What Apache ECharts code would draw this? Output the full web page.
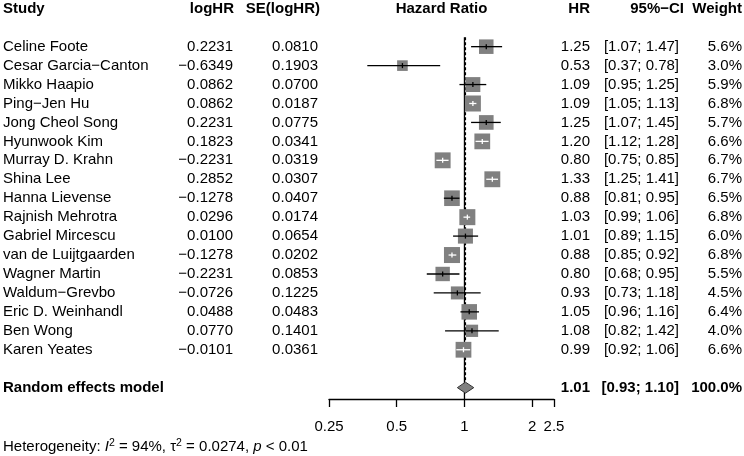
<!DOCTYPE html>
<html>
<head>
<meta charset="utf-8">
<script src="https://cdn.jsdelivr.net/npm/echarts@6/dist/echarts.min.js"></script>
<style>
  html, body { margin: 0; padding: 0; background: #fff; }
  #chart { width: 744px; height: 456px; }
</style>
</head>
<body>
<div id="chart"></div>
<script>
// study data
const studies = [
  'Celine Foote', 'Cesar Garcia\u2212Canton', 'Mikko Haapio', 'Ping\u2212Jen Hu',
  'Jong Cheol Song', 'Hyunwook Kim', 'Murray D. Krahn', 'Shina Lee',
  'Hanna Lievense', 'Rajnish Mehrotra', 'Gabriel Mircescu', 'van de Luijtgaarden',
  'Wagner Martin', 'Waldum\u2212Grevbo', 'Eric D. Weinhandl', 'Ben Wong', 'Karen Yeates'
];
const logHR = [0.2231, -0.6349, 0.0862, 0.0862, 0.2231, 0.1823, -0.2231, 0.2852,
  -0.1278, 0.0296, 0.0100, -0.1278, -0.2231, -0.0726, 0.0488, 0.0770, -0.0101];
const seLogHR = [0.0810, 0.1903, 0.0700, 0.0187, 0.0775, 0.0341, 0.0319, 0.0307,
  0.0407, 0.0174, 0.0654, 0.0202, 0.0853, 0.1225, 0.0483, 0.1401, 0.0361];
const hr = [1.25, 0.53, 1.09, 1.09, 1.25, 1.20, 0.80, 1.33, 0.88, 1.03, 1.01, 0.88, 0.80, 0.93, 1.05, 1.08, 0.99];
const ciLower = [1.07, 0.37, 0.95, 1.05, 1.07, 1.12, 0.75, 1.25, 0.81, 0.99, 0.89, 0.85, 0.68, 0.73, 0.96, 0.82, 0.92];
const ciUpper = [1.47, 0.78, 1.25, 1.13, 1.45, 1.28, 0.85, 1.41, 0.95, 1.06, 1.15, 0.92, 0.95, 1.18, 1.16, 1.42, 1.06];
const weights = [5.6, 3.0, 5.9, 6.8, 5.7, 6.6, 6.7, 6.7, 6.5, 6.8, 6.0, 6.8, 5.5, 4.5, 6.4, 4.0, 6.6];

// random effects model
const pooledHR = 1.01;
const pooledCI = [0.93, 1.10];
const pooledWeight = 100.0;

const xTicks = [0.25, 0.5, 1, 2, 2.5];
const headers = ['Study', 'logHR', 'SE(logHR)', 'Hazard Ratio', 'HR', '95%\u2212CI', 'Weight'];

const FONT = "'Liberation Sans', Arial, Helvetica, sans-serif";
const FS = 15;
const HEADER_ROW = -2;
const POOLED_ROW = 18;

const fmt = (v, d) => v.toFixed(d).replace('-', '\u2212');
const ciText = (lo, hi) => '[' + fmt(lo, 2) + '; ' + fmt(hi, 2) + ']';

// table cells (row index, text, x pixel, alignment, bold)
const cells = [];
const colX = [3, 234, 320, 441.5, 590, 684, 742];
const colAlign = ['left', 'right', 'right', 'center', 'right', 'right', 'right'];
headers.forEach((h, i) => cells.push({ row: HEADER_ROW, text: h, x: colX[i], align: colAlign[i], bold: true }));
studies.forEach((s, i) => {
  cells.push({ row: i, text: s, x: 3, align: 'left' });
  cells.push({ row: i, text: fmt(logHR[i], 4), x: 233, align: 'right' });
  cells.push({ row: i, text: fmt(seLogHR[i], 4), x: 318, align: 'right' });
  cells.push({ row: i, text: fmt(hr[i], 2), x: 590, align: 'right' });
  cells.push({ row: i, text: ciText(ciLower[i], ciUpper[i]), x: 679, align: 'right' });
  cells.push({ row: i, text: weights[i].toFixed(1) + '%', x: 742, align: 'right' });
});
cells.push({ row: POOLED_ROW, text: 'Random effects model', x: 3, align: 'left', bold: true });
cells.push({ row: POOLED_ROW, text: fmt(pooledHR, 2), x: 590, align: 'right', bold: true });
cells.push({ row: POOLED_ROW, text: ciText(pooledCI[0], pooledCI[1]), x: 679, align: 'right', bold: true });
cells.push({ row: POOLED_ROW, text: pooledWeight.toFixed(1) + '%', x: 742, align: 'right', bold: true });

const chart = echarts.init(document.getElementById('chart'));

const option = {
  animation: false,
  backgroundColor: '#fff',
  textStyle: { fontFamily: FONT },
  grid: { left: 329, right: 190, top: 37.2, bottom: 57 },
  xAxis: {
    type: 'log',
    logBase: 2,
    min: 0.25,
    max: 2.5,
    axisLine: { onZero: false, lineStyle: { color: '#000', width: 1.3 } },
    axisTick: { length: 8, customValues: xTicks, lineStyle: { color: '#000', width: 1.3 } },
    axisLabel: {
      customValues: xTicks,
      margin: 20,
      color: '#000',
      fontSize: FS,
      fontFamily: FONT,
      formatter: v => String(+(+v).toPrecision(3))
    },
    splitLine: { show: false }
  },
  yAxis: { type: 'value', inverse: true, min: -0.5, max: 18.6, show: false },
  graphic: [{
    type: 'text',
    left: 3,
    top: 438,
    style: {
      text: '{a|Heterogeneity: }{i|I}{s|2}{a| = 94%, \u03c4}{s|2}{a| = 0.0274, }{i|p}{a| < 0.01}',
      rich: {
        a: { fontSize: FS, fontFamily: FONT, lineHeight: 18, fill: '#000' },
        i: { fontSize: FS, fontFamily: FONT, fontStyle: 'italic', lineHeight: 18, fill: '#000' },
        s: { fontSize: 10.5, fontFamily: FONT, lineHeight: 18, verticalAlign: 'top', fill: '#000' }
      }
    }
  }],
  series: [
    {
      // line of no effect
      type: 'line',
      data: [[1, -0.5], [1, 18.6]],
      symbol: 'none',
      lineStyle: { color: '#000', width: 1.3 },
      silent: true
    },
    {
      // random effects estimate
      type: 'line',
      data: [[pooledHR, -0.5], [pooledHR, POOLED_ROW - 0.3]],
      symbol: 'none',
      lineStyle: { color: '#000', width: 1.3, type: [3, 2] },
      silent: true
    },
    {
      // study squares + CIs
      type: 'custom',
      data: studies.map((s, i) => [i, hr[i], ciLower[i], ciUpper[i], weights[i]]),
      renderItem: (params, api) => {
        const row = api.value(0);
        const p = api.coord([api.value(1), row]);
        const lo = api.coord([api.value(2), row]);
        const hi = api.coord([api.value(3), row]);
        const size = 6.14 * Math.sqrt(api.value(4));
        const inside = lo[0] >= p[0] - size / 2 && hi[0] <= p[0] + size / 2;
        const lineCol = inside ? '#fff' : '#000';
        return {
          type: 'group',
          children: [
            { type: 'rect', shape: { x: p[0] - size / 2, y: p[1] - size / 2, width: size, height: size },
              style: { fill: '#808080' } },
            { type: 'line', shape: { x1: lo[0], y1: p[1], x2: hi[0], y2: p[1] },
              style: { stroke: lineCol, lineWidth: 1.3 } },
            { type: 'line', shape: { x1: p[0], y1: p[1] - 2.5, x2: p[0], y2: p[1] + 2.5 },
              style: { stroke: lineCol, lineWidth: 1.3 } }
          ]
        };
      },
      z: 5
    },
    {
      // pooled diamond
      type: 'custom',
      data: [[POOLED_ROW, pooledHR, pooledCI[0], pooledCI[1]]],
      renderItem: (params, api) => {
        const row = api.value(0);
        const p = api.coord([api.value(1), row]);
        const lo = api.coord([api.value(2), row]);
        const hi = api.coord([api.value(3), row]);
        const h = 5.5;
        return {
          type: 'polygon',
          shape: { points: [[lo[0], p[1]], [p[0], p[1] - h], [hi[0], p[1]], [p[0], p[1] + h]] },
          style: { fill: '#808080', stroke: '#333', lineWidth: 1 }
        };
      },
      z: 6
    },
    {
      // table text
      type: 'custom',
      data: cells.map((c, i) => [c.row, i]),
      renderItem: (params, api) => {
        const c = cells[api.value(1)];
        const y = api.coord([1, c.row])[1];
        return {
          type: 'text',
          style: {
            text: c.text, x: c.x, y: y,
            align: c.align, verticalAlign: 'middle',
            font: (c.bold ? 'bold ' : '') + FS + 'px ' + FONT,
            fill: '#000'
          }
        };
      },
      clip: false,
      silent: true
    }
  ]
};

chart.setOption(option);
window.addEventListener('resize', () => chart.resize());
</script>
</body>
</html>
